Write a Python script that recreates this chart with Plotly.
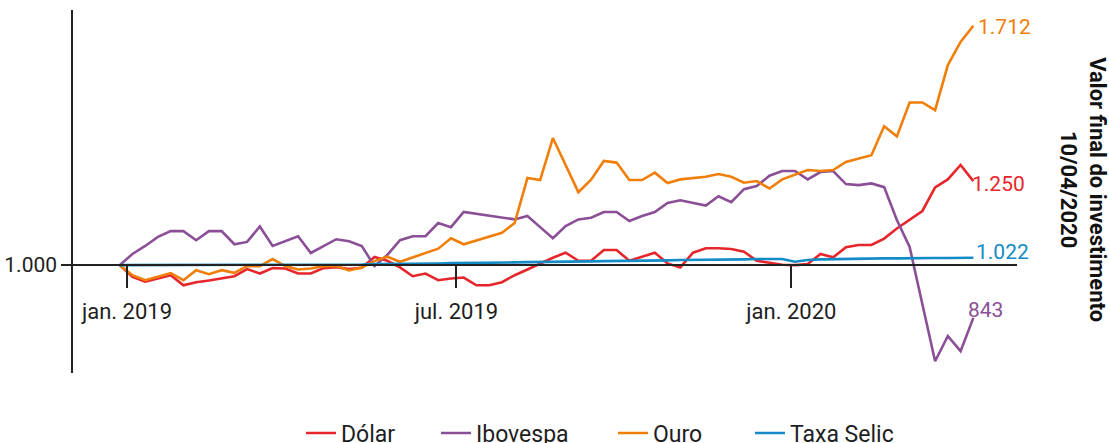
import pandas as pd
import plotly.graph_objects as go

# Weekly observations (Fridays), 28/12/2018 .. 10/04/2020
dates = pd.date_range("2018-12-28", periods=68, freq="7D")

N = None
dolar = [1000, 965, 951, N, 970, 940, 949, 954, N, 967,
         988, 975, 991, 990, 975, 975, 991, 994, 988, 992,
         1024, 1013, 993, 967, 975, 955, 960, 963, 940, 940,
         949, 970, 987, 1005, 1022, 1037, 1013, 1013, 1045, 1045,
         1013, 1025, 1037, 1005, 993, 1037, 1050, 1050, 1048, 1040,
         1013, 1007, 1001, 1000, 1003, 1033, 1023, 1053, 1060, 1060,
         1079, 1109, 1136, 1161, 1231, 1255, 1298, 1250]

ibovespa = [1000, 1033, 1057, 1084, 1101, 1101, 1074, 1101, 1101, 1062,
            1069, 1115, 1057, N, 1086, 1036, N, 1077, 1071, 1057,
            997, 1030, 1074, 1086, 1086, 1125, 1113, 1158, N, N,
            N, 1136, 1146, 1113, 1080, 1116, 1136, 1141, 1158, 1158,
            1131, 1146, 1158, 1185, 1193, N, 1177, 1205, 1187, 1226,
            1235, 1266, 1280, 1280, 1255, 1277, 1280, 1241, 1238, 1243,
            1232, 1134, 1054, N, 714, 789, 744, 843]

ouro = [1000, 970, 955, 965, 976, 955, 985, 973, 985, 977,
        997, 997, 1018, 997, 987, 990, 997, 997, 984, 993,
        1012, 1025, 1010, N, N, 1049, 1080, 1062, N, N,
        1096, 1125, 1259, 1253, 1378, N, 1217, 1254, 1310, 1305,
        1253, 1253, 1275, 1244, 1255, 1258, 1263, 1271, 1263, 1245,
        1250, 1228, 1255, N, 1283, 1280, 1283, 1307, N, 1327,
        1413, 1383, 1484, 1484, 1461, 1595, 1664, 1712]

selic = [1000, 1000, 1001, 1001, 1001, 1001, 1001, 1001, 1001, 1000,
         1000, 1000, 1000, 1001, 1001, 1001, 1001, 1001, 1002, 1002,
         1003, 1003, 1004, 1004, 1005, 1005, 1006, 1006, 1007, 1007,
         1008, 1008, 1009, 1009, 1010, 1010, 1011, 1011, 1012, 1012,
         1013, 1013, 1014, 1014, 1015, 1015, 1016, 1016, 1017, 1017,
         1018, 1018, 1018, 1010, 1015, 1017, 1018, 1019, 1019, 1020,
         1020, 1020, 1021, 1021, 1021, 1021, 1022, 1022]

series_names = ["Dólar", "Ibovespa", "Ouro", "Taxa Selic"]
series_values = [dolar, ibovespa, ouro, selic]
series_colors = ["#e6262b", "#8a4f96", "#f07f0a", "#138bc6"]
end_labels = ["1.250", "843", "1.712", "1.022"]
label_shifts = [(-3, -3), (-7, 8), (3, -1), (1, 6)]
legend_ids = ["legend", "legend2", "legend3", "legend4"]
legend_x = [306, 441, 618, 755]

tick_dates = ["2019-01-01", "2019-07-01", "2020-01-01"]
tick_text = ["jan. 2019", "jul. 2019", "jan. 2020"]

FONT = "Roboto, 'Noto Sans', sans-serif"
INK = "#1e1e1e"
W, H = 1109, 443
ML, MR, MT, MB = 73, 92, 10, 70
PH = H - MT - MB

fig = go.Figure()
for name, vals, col, lg in zip(series_names, series_values, series_colors, legend_ids):
    fig.add_trace(go.Scatter(
        x=dates, y=vals, name=name, mode="lines", legend=lg,
        line=dict(color=col, width=2.6), connectgaps=True,
        hoverinfo="skip"))

for name, vals, col, lab, (dx, dy) in zip(series_names, series_values,
                                          series_colors, end_labels, label_shifts):
    fig.add_annotation(x=dates[-1], y=vals[-1], text=lab, showarrow=False,
                       xanchor="left", yanchor="middle", xshift=dx, yshift=dy,
                       font=dict(family=FONT, size=21, color=col))

y0, y1 = 679, 1759
fig.add_annotation(
    xref="paper", yref="paper", x=1.0698, y=0.504,
    text="<b>Valor final do investimento</b><br><b>10/04/2020</b>",
    textangle=90, showarrow=False, xanchor="center", yanchor="middle",
    font=dict(family=FONT, size=22, color="#111111"))

legend_common = dict(orientation="h", xref="container", yref="paper",
                     xanchor="left", y=-(433 - (H - MB)) / PH, yanchor="middle",
                     font=dict(family=FONT, size=23, color=INK),
                     bgcolor="rgba(0,0,0,0)")
legends = {}
for lg, lx in zip(legend_ids, legend_x):
    legends[lg] = dict(legend_common, x=(lx - 5) / W)

fig.update_layout(
    width=W, height=H,
    margin=dict(l=ML, r=MR, t=MT, b=MB, autoexpand=False),
    paper_bgcolor="white", plot_bgcolor="white",
    font=dict(family=FONT, size=21, color=INK),
    showlegend=True,
    **legends,
    xaxis=dict(type="date", range=["2018-12-02 08:00", "2020-05-04"],
               tickvals=tick_dates, ticktext=tick_text,
               ticks="outside", ticklen=22, tickwidth=1.5, tickcolor="#222",
               showline=True, linecolor="#222", linewidth=1.5,
               showgrid=False, zeroline=False,
               anchor="free", position=(1000 - y0) / (y1 - y0),
               ticklabelstandoff=5,
               tickfont=dict(family=FONT, size=22, color=INK)),
    yaxis=dict(range=[y0, y1], tickvals=[1000], ticktext=["1.000"],
               ticks="outside", ticklen=10, tickwidth=1.5, tickcolor="#222",
               showline=True, linecolor="#222", linewidth=1.5,
               showgrid=False, zeroline=False,
               tickfont=dict(family=FONT, size=21, color=INK)),
)

fig.write_html("out.html", config={"displayModeBar": False},
               post_script="document.body.style.margin='0';document.body.style.overflow='hidden';")
